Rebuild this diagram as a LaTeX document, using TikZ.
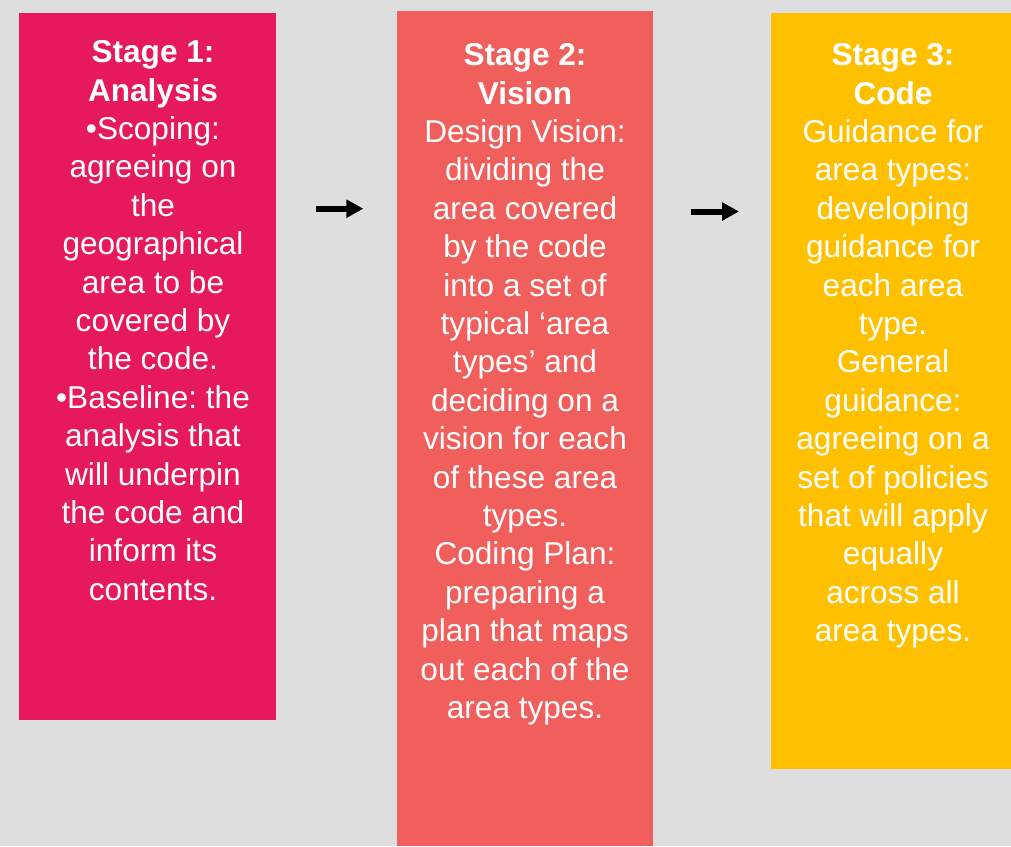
\documentclass[tikz,border=0pt]{standalone}
\usepackage{fontspec}
\setmainfont{Liberation Sans}
\usetikzlibrary{arrows.meta}
\definecolor{bg}{HTML}{DEDEDE}
\definecolor{cone}{HTML}{E6195A}
\definecolor{ctwo}{HTML}{F05F5C}
\definecolor{cthree}{HTML}{FFC000}
\tikzset{
  stagebox/.style={draw=none,anchor=north west,inner sep=0pt,outer sep=0pt},
  stagetext/.style={anchor=north,inner sep=0pt,align=center,text=white,font=\fontsize{31.6}{38.4}\selectfont\frenchspacing},
  flow/.style={-{Triangle[length=17pt,width=17.5pt]},line width=6pt,black}
}
\begin{document}
\begin{tikzpicture}[x=1pt,y=-1pt]
\useasboundingbox (0,0) rectangle (1011,846);
\fill[bg] (0,0) rectangle (1011,846);
\node[stagebox,fill=cone,minimum width=257pt,minimum height=707pt] (b1) at (19,13) {};
\node[stagebox,fill=ctwo,minimum width=256pt,minimum height=835pt] (b2) at (397,11) {};
\node[stagebox,fill=cthree,minimum width=240pt,minimum height=756pt] (b3) at (771,13) {};
\node[stagetext] (t1) at (153,40.5) {\textbf{Stage 1:}\\\textbf{Analysis}\\•Scoping:\\agreeing on\\the\\geographical\\area to be\\covered by\\the code.\\•Baseline: the\\analysis that\\will underpin\\the code and\\inform its\\contents.};
\node[stagetext] (t2) at (525,43.5) {\textbf{Stage 2:}\\\textbf{Vision}\\Design Vision:\\dividing the\\area covered\\by the code\\into a set of\\typical ‘area\\types’ and\\deciding on a\\vision for each\\of these area\\types.\\Coding Plan:\\preparing a\\plan that maps\\out each of the\\area types.};
\node[stagetext] (t3) at (893,43.5) {\textbf{Stage 3:}\\\textbf{Code}\\Guidance for\\area types:\\developing\\guidance for\\each area\\type.\\General\\guidance:\\agreeing on a\\set of policies\\that will apply\\equally\\across all\\area types.};
\coordinate (a1s) at (316,208.7);
\coordinate (a1e) at (363.3,208.7);
\coordinate (a2s) at (691,211.5);
\coordinate (a2e) at (739,211.5);
\draw[flow] (a1s) -- (a1e);
\draw[flow] (a2s) -- (a2e);
\end{tikzpicture}
\end{document}
